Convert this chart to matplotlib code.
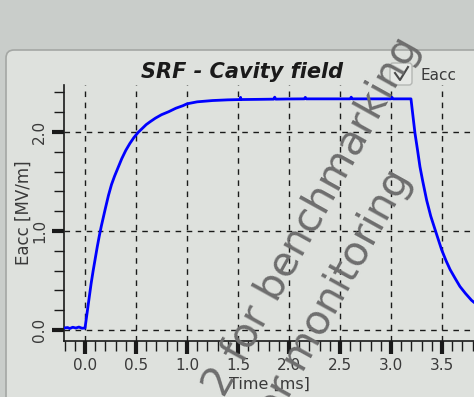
import matplotlib
matplotlib.use('Agg')
import matplotlib.pyplot as plt
from matplotlib.patches import FancyBboxPatch
from matplotlib.ticker import MultipleLocator
from matplotlib.lines import Line2D

# cavity field trace (time in ms, Eacc in MV/m)
time_ms = [-0.21, -0.17, -0.15, -0.12, -0.09, -0.06, -0.03, 0.0,
           0.02, 0.04, 0.06, 0.08, 0.10, 0.12, 0.14, 0.16, 0.18, 0.20, 0.23,
           0.26, 0.29, 0.32, 0.36, 0.40, 0.44, 0.48, 0.52, 0.56, 0.60, 0.64,
           0.69, 0.75, 0.82, 0.89, 0.96,
           1.0, 1.1, 1.25, 1.4, 1.52, 1.525, 1.53, 1.7, 1.85, 1.86, 1.87, 2.0,
           2.15, 2.16, 2.17, 2.4, 2.6, 2.61, 2.62, 2.8, 3.0, 3.01, 3.02, 3.196,
           3.21, 3.235, 3.26, 3.284, 3.31, 3.35, 3.39, 3.44, 3.497, 3.54, 3.58,
           3.63, 3.676, 3.73, 3.79, 3.85]
eacc = [0.02, 0.025, 0.015, 0.028, 0.02, 0.03, 0.018, 0.02,
        0.17, 0.32, 0.47, 0.60, 0.72, 0.84, 0.95, 1.05, 1.14, 1.23, 1.36,
        1.47, 1.555, 1.63, 1.73, 1.815, 1.885, 1.945, 1.995, 2.035, 2.075, 2.105,
        2.14, 2.175, 2.205, 2.24, 2.266,
        2.285, 2.305, 2.318, 2.325, 2.328, 2.35, 2.328, 2.33, 2.332, 2.352, 2.332, 2.334,
        2.335, 2.35, 2.335, 2.335, 2.335, 2.352, 2.335, 2.335, 2.335, 2.35, 2.335, 2.335,
        2.21, 1.99, 1.82, 1.65, 1.51, 1.31, 1.15, 0.99, 0.81, 0.70, 0.61,
        0.52, 0.44, 0.37, 0.30, 0.25]

x_ticks = [0.0, 0.5, 1.0, 1.5, 2.0, 2.5, 3.0, 3.5]
y_ticks = [0.0, 1.0, 2.0]

W, H = 474, 397
fig = plt.figure(figsize=(W / 100, H / 100), dpi=100)
fig.patch.set_facecolor('#c9cdca')

# window panel behind the plot
panel = FancyBboxPatch((0.06, -0.1), 4.9, 3.57,
                       boxstyle='round,pad=0,rounding_size=0.08',
                       facecolor='#dee1dd', edgecolor='#a4a7a4', linewidth=1.2,
                       transform=fig.dpi_scale_trans, zorder=-10)
fig.patches.append(panel)

ax = fig.add_axes([64 / W, (H - 341) / H, 410 / W, 256 / H])
ax.set_facecolor('none')
ax.plot(time_ms, eacc, color='#0000ff', linewidth=2, zorder=3)

ax.set_xlim(-0.206, 3.814)
ax.set_ylim(-0.111, 2.475)
ax.xaxis.set_minor_locator(MultipleLocator(0.1))
ax.yaxis.set_minor_locator(MultipleLocator(0.2))
ax.set_xticks(x_ticks)
ax.set_yticks(y_ticks)
ax.set_xticklabels(['%.1f' % v for v in x_ticks])
ax.set_yticklabels(['%.1f' % v for v in y_ticks], rotation=90, va='center')

for s in ['top', 'right']:
    ax.spines[s].set_visible(False)
for s in ['left', 'bottom']:
    ax.spines[s].set_color('#1a1a1a')
    ax.spines[s].set_linewidth(1.2)

ax.tick_params(which='major', direction='out', length=9, width=3, color='#1a1a1a',
               labelsize=11, labelcolor='#3a3a3a', pad=3)
ax.tick_params(which='minor', direction='out', length=7, width=1, color='#1a1a1a')
ax.grid(True, which='major', color='#1a1a1a', linestyle=(0, (4, 4)), linewidth=1)

ax.set_xlabel('Time [ms]', fontsize=11.5, color='#3a3a3a', labelpad=3)
ax.set_ylabel('Eacc [MV/m]', fontsize=12, color='#3a3a3a', labelpad=0)

fig.text(242 / W, 1 - 72 / H, 'SRF - Cavity field', ha='center', va='center',
         fontsize=15, fontweight='bold', fontstyle='italic', color='#1a1a1a')

# legend: checkbox + label
box = FancyBboxPatch((3.90, 3.12), 0.22, 0.22,
                     boxstyle='round,pad=0,rounding_size=0.03',
                     facecolor='#e6e8e5', edgecolor='#b3b6b3', linewidth=1,
                     transform=fig.dpi_scale_trans, zorder=5)
fig.patches.append(box)
fig.lines.append(Line2D([3.95, 4.00, 4.08], [3.24, 3.17, 3.30], color='#4a4a4a',
                        linewidth=1.5, transform=fig.dpi_scale_trans, zorder=6))
fig.text(420 / W, 1 - 76 / H, 'Eacc', ha='left', va='center', fontsize=11, color='#3a3a3a')

# watermark
fig.text(419.5 / W, 1 - 45.5 / H, '2 for benchmarking', rotation=61, rotation_mode='anchor',
         ha='right', va='baseline', fontsize=29.5, color='#6e6e6e', zorder=10)
fig.text(412 / W, 1 - 178 / H, 'for monitoring', rotation=61, rotation_mode='anchor',
         ha='right', va='baseline', fontsize=29.5, color='#6e6e6e', zorder=10)

fig.savefig('out.png', dpi=100, facecolor=fig.get_facecolor())
